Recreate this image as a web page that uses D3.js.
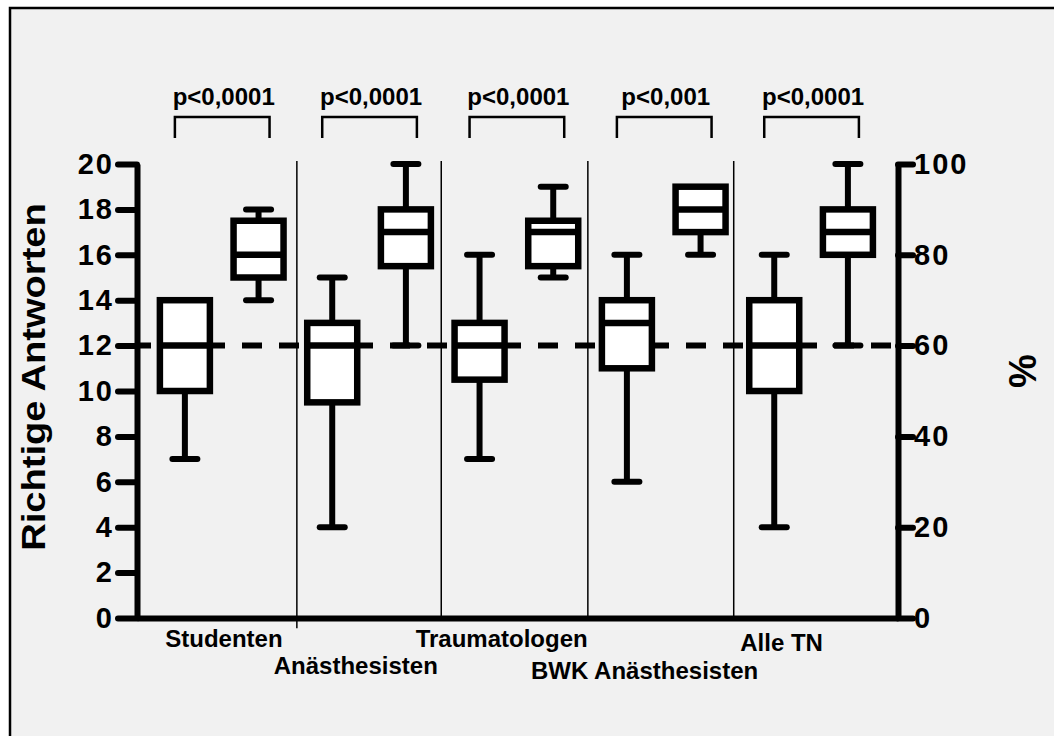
<!DOCTYPE html>
<html>
<head>
<meta charset="utf-8">
<script src="https://cdn.jsdelivr.net/npm/d3@7"></script>
<style>
  body { margin: 0; background: #fff; }
  text { font-family: "Liberation Sans", Arial, sans-serif; font-weight: bold; fill: #000; }
</style>
</head>
<body>
<svg id="chart"></svg>
<script>
// groups and p-values
const groups = ["Studenten", "Anästhesisten", "Traumatologen", "BWK Anästhesisten", "Alle TN"];
const pValues = ["p<0,0001", "p<0,0001", "p<0,0001", "p<0,001", "p<0,0001"];

// ten boxes, two per group (before / after)
const boxMin = [7, 14, 4, 12, 7, 15, 6, 16, 4, 12];
const boxQ1  = [10, 15, 9.5, 15.5, 10.5, 15.5, 11, 17, 10, 16];
const boxMed = [12, 16, 12, 17, 12, 17, 13, 18, 12, 17];
const boxQ3  = [14, 17.5, 13, 18, 13, 17.5, 14, 19, 14, 18];
const boxMax = [14, 18, 15, 20, 16, 19, 16, 19, 16, 20];

const passMark = 12;
const leftTicks = [0, 2, 4, 6, 8, 10, 12, 14, 16, 18, 20];
const rightTicks = [0, 20, 40, 60, 80, 100];
const separators = [1.52, 3.48, 5.47, 7.45];

// layout of the category labels (x in box units, baseline y)
const labelLayout = [
  { pos: 0.53, y: 647 },
  { pos: 2.32, y: 674 },
  { pos: 4.30, y: 647 },
  { pos: 6.24, y: 679 },
  { pos: 8.10, y: 651 }
];

let w = 1054;
let h = 736;

let svg = d3.select('#chart')
  .attr('width', w)
  .attr('height', h);

// panel background with its frame
svg.append('rect')
  .attr('x', 10)
  .attr('y', 8)
  .attr('width', 1100)
  .attr('height', 800)
  .attr('fill', '#f1f1f1')
  .attr('stroke', '#000')
  .attr('stroke-width', 2.5);

let x = d3.scaleLinear().domain([-0.65, 9.68]).range([137, 898]);
let y = d3.scaleLinear().domain([0, 20]).range([618, 164]);
let yPct = d3.scaleLinear().domain([0, 100]).range([618, 164]);

// thin separators between the groups
svg.selectAll('.sep')
  .data(separators)
  .enter()
  .append('line')
  .attr('class', 'sep')
  .attr('x1', d => x(d))
  .attr('x2', d => x(d))
  .attr('y1', y(20.13))
  .attr('y2', (d, i) => i == 0 ? y(-0.45) : y(0))
  .attr('stroke', '#000')
  .attr('stroke-width', 1.5);

// dashed pass line at 12 points
svg.append('line')
  .attr('x1', x.range()[0])
  .attr('x2', x.range()[1])
  .attr('y1', y(passMark))
  .attr('y2', y(passMark))
  .attr('stroke', '#000')
  .attr('stroke-width', 6)
  .attr('stroke-dasharray', '20,17')
  .attr('stroke-dashoffset', 6);

// boxes
let boxW = 50;
let capW = 25;
let boxes = svg.selectAll('.box')
  .data(boxMin.map((d, i) => i))
  .enter()
  .append('g')
  .attr('class', 'box')
  .attr('transform', i => `translate(${x(i)},0)`);

boxes.append('line')
  .attr('y1', i => y(boxMin[i]))
  .attr('y2', i => y(boxMax[i]))
  .attr('stroke', '#000')
  .attr('stroke-width', 6);

boxes.append('rect')
  .attr('x', -boxW / 2)
  .attr('y', i => y(boxQ3[i]))
  .attr('width', boxW)
  .attr('height', i => y(boxQ1[i]) - y(boxQ3[i]))
  .attr('fill', '#fff')
  .attr('stroke', '#000')
  .attr('stroke-width', 6.5);

boxes.append('line')
  .attr('x1', -boxW / 2)
  .attr('x2', boxW / 2)
  .attr('y1', i => y(boxMed[i]))
  .attr('y2', i => y(boxMed[i]))
  .attr('stroke', '#000')
  .attr('stroke-width', 6.5);

// whisker caps
['min', 'max'].forEach(k => {
  boxes.filter(i => k == 'min' ? boxMin[i] < boxQ1[i] : boxMax[i] > boxQ3[i])
    .append('line')
    .attr('x1', -capW / 2)
    .attr('x2', capW / 2)
    .attr('y1', i => y(k == 'min' ? boxMin[i] : boxMax[i]))
    .attr('y2', i => y(k == 'min' ? boxMin[i] : boxMax[i]))
    .attr('stroke', '#000')
    .attr('stroke-width', 6)
    .attr('stroke-linecap', 'round');
});

// AXES
function styleAxis(g) {
  g.select('.domain').attr('stroke', '#000').attr('stroke-width', 6);
  g.selectAll('.tick line').attr('stroke', '#000').attr('stroke-width', 6).attr('stroke-linecap', 'round');
  g.selectAll('.tick text')
    .style('font-family', '"Liberation Sans", Arial, sans-serif')
    .style('font-weight', 'bold')
    .style('font-size', '29px')
    .style('letter-spacing', '2px')
    .attr('fill', '#000');
}

svg.append('g')
  .attr('transform', `translate(0, ${y(0)})`)
  .call(d3.axisBottom(x).tickValues([]).tickSizeOuter(0))
  .call(styleAxis);

svg.append('g')
  .attr('transform', `translate(${x.range()[0]}, 0)`)
  .call(d3.axisLeft(y).tickValues(leftTicks).tickSize(19).tickSizeOuter(0).tickPadding(4))
  .call(styleAxis);

svg.append('g')
  .attr('transform', `translate(${x.range()[1]}, 0)`)
  .call(d3.axisRight(yPct).tickValues(rightTicks).tickSize(15).tickSizeOuter(0).tickPadding(1))
  .call(styleAxis);

// category labels
svg.selectAll('.cat')
  .data(groups)
  .enter()
  .append('text')
  .attr('class', 'cat')
  .attr('x', (d, i) => x(labelLayout[i].pos))
  .attr('y', (d, i) => labelLayout[i].y)
  .attr('text-anchor', 'middle')
  .style('font-size', '24px')
  .text(d => d);

// significance brackets
let brackets = svg.selectAll('.bracket')
  .data(pValues)
  .enter()
  .append('g')
  .attr('class', 'bracket');

brackets.append('path')
  .attr('d', (d, i) => {
    let x1 = x(2 * i) - 10;
    let x2 = x(2 * i + 1) + 11;
    return `M${x1},138V117H${x2}V138`;
  })
  .attr('fill', 'none')
  .attr('stroke', '#000')
  .attr('stroke-width', 2.5);

brackets.append('text')
  .attr('x', (d, i) => (x(2 * i) + x(2 * i + 1)) / 2 + 2)
  .attr('y', 105)
  .attr('text-anchor', 'middle')
  .style('font-size', '24px')
  .text(d => d);

// axis titles (the left one is slightly stretched along its length)
svg.append('text')
  .attr('transform', 'translate(45, 377) rotate(-90) scale(1.12, 1)')
  .attr('text-anchor', 'middle')
  .style('font-size', '34px')
  .text('Richtige Antworten');

svg.append('text')
  .attr('transform', 'translate(1036, 371) rotate(-90)')
  .attr('text-anchor', 'middle')
  .style('font-size', '38px')
  .text('%');
</script>
</body>
</html>
